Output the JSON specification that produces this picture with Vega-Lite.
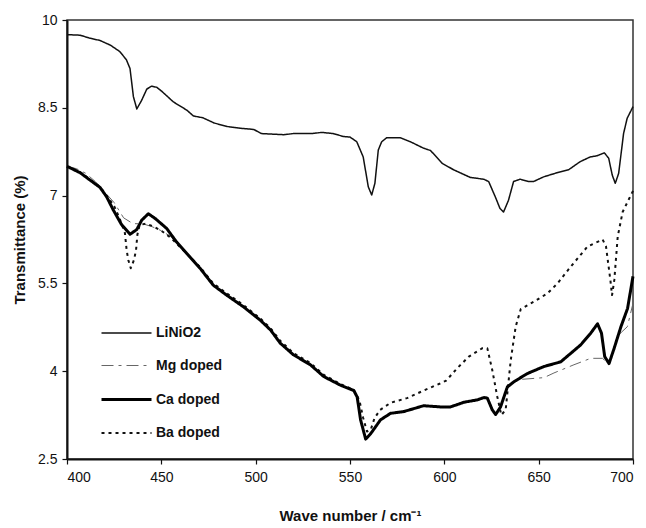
{
  "$schema": "https://vega.github.io/schema/vega-lite/v6.json",
  "width": 566,
  "height": 439,
  "autosize": {"type": "none"},
  "padding": {"left": 67, "top": 20, "right": 13, "bottom": 69},
  "background": "white",
  "config": {
    "font": "Liberation Sans",
    "view": {"stroke": "#333333", "strokeWidth": 1.5},
    "axis": {
      "domainColor": "#111111",
      "domainWidth": 2,
      "tickColor": "#111111",
      "tickWidth": 1.2,
      "tickSize": 5,
      "grid": false,
      "labelFont": "Liberation Sans",
      "labelFontSize": 14,
      "labelColor": "#111111",
      "titleFont": "Liberation Sans",
      "titleFontWeight": "bold",
      "titleFontSize": 15,
      "titleColor": "#111111"
    }
  },
  "data": {
    "values": [
      {"s": "LiNiO2", "wn": 400, "t": 9.75}, {"s": "LiNiO2", "wn": 407, "t": 9.74}, {"s": "LiNiO2", "wn": 412, "t": 9.69}, {"s": "LiNiO2", "wn": 417.5, "t": 9.65}, {"s": "LiNiO2", "wn": 423, "t": 9.57}, {"s": "LiNiO2", "wn": 428, "t": 9.46}, {"s": "LiNiO2", "wn": 431.5, "t": 9.32}, {"s": "LiNiO2", "wn": 433.4, "t": 9.17}, {"s": "LiNiO2", "wn": 435.2, "t": 8.69}, {"s": "LiNiO2", "wn": 437, "t": 8.48}, {"s": "LiNiO2", "wn": 439.6, "t": 8.63}, {"s": "LiNiO2", "wn": 442.3, "t": 8.82}, {"s": "LiNiO2", "wn": 444.9, "t": 8.87}, {"s": "LiNiO2", "wn": 447.6, "t": 8.85}, {"s": "LiNiO2", "wn": 450.3, "t": 8.78}, {"s": "LiNiO2", "wn": 456.4, "t": 8.6}, {"s": "LiNiO2", "wn": 463.5, "t": 8.46}, {"s": "LiNiO2", "wn": 467, "t": 8.36}, {"s": "LiNiO2", "wn": 472, "t": 8.33}, {"s": "LiNiO2", "wn": 478, "t": 8.24}, {"s": "LiNiO2", "wn": 485, "t": 8.18}, {"s": "LiNiO2", "wn": 492, "t": 8.15}, {"s": "LiNiO2", "wn": 499, "t": 8.13}, {"s": "LiNiO2", "wn": 503, "t": 8.06}, {"s": "LiNiO2", "wn": 509, "t": 8.05}, {"s": "LiNiO2", "wn": 515, "t": 8.04}, {"s": "LiNiO2", "wn": 520, "t": 8.06}, {"s": "LiNiO2", "wn": 530, "t": 8.06}, {"s": "LiNiO2", "wn": 535, "t": 8.08}, {"s": "LiNiO2", "wn": 541, "t": 8.06}, {"s": "LiNiO2", "wn": 546.5, "t": 8.01}, {"s": "LiNiO2", "wn": 550, "t": 8.0}, {"s": "LiNiO2", "wn": 553.6, "t": 7.92}, {"s": "LiNiO2", "wn": 557, "t": 7.66}, {"s": "LiNiO2", "wn": 559.7, "t": 7.15}, {"s": "LiNiO2", "wn": 561.5, "t": 7.01}, {"s": "LiNiO2", "wn": 563.2, "t": 7.21}, {"s": "LiNiO2", "wn": 565, "t": 7.78}, {"s": "LiNiO2", "wn": 566.8, "t": 7.92}, {"s": "LiNiO2", "wn": 569.5, "t": 7.99}, {"s": "LiNiO2", "wn": 576.5, "t": 7.99}, {"s": "LiNiO2", "wn": 582, "t": 7.92}, {"s": "LiNiO2", "wn": 589, "t": 7.81}, {"s": "LiNiO2", "wn": 592.7, "t": 7.77}, {"s": "LiNiO2", "wn": 598.9, "t": 7.55}, {"s": "LiNiO2", "wn": 605, "t": 7.44}, {"s": "LiNiO2", "wn": 613.8, "t": 7.31}, {"s": "LiNiO2", "wn": 620.9, "t": 7.28}, {"s": "LiNiO2", "wn": 623.5, "t": 7.24}, {"s": "LiNiO2", "wn": 627, "t": 6.98}, {"s": "LiNiO2", "wn": 629.5, "t": 6.78}, {"s": "LiNiO2", "wn": 631.4, "t": 6.72}, {"s": "LiNiO2", "wn": 634, "t": 6.92}, {"s": "LiNiO2", "wn": 636.7, "t": 7.24}, {"s": "LiNiO2", "wn": 640.2, "t": 7.28}, {"s": "LiNiO2", "wn": 644.6, "t": 7.24}, {"s": "LiNiO2", "wn": 647.3, "t": 7.24}, {"s": "LiNiO2", "wn": 652.6, "t": 7.32}, {"s": "LiNiO2", "wn": 659.7, "t": 7.39}, {"s": "LiNiO2", "wn": 665.8, "t": 7.44}, {"s": "LiNiO2", "wn": 672, "t": 7.58}, {"s": "LiNiO2", "wn": 677.3, "t": 7.66}, {"s": "LiNiO2", "wn": 680.9, "t": 7.68}, {"s": "LiNiO2", "wn": 684.8, "t": 7.73}, {"s": "LiNiO2", "wn": 687.1, "t": 7.64}, {"s": "LiNiO2", "wn": 689, "t": 7.35}, {"s": "LiNiO2", "wn": 690.6, "t": 7.21}, {"s": "LiNiO2", "wn": 692.4, "t": 7.38}, {"s": "LiNiO2", "wn": 695, "t": 8.06}, {"s": "LiNiO2", "wn": 696.9, "t": 8.32}, {"s": "LiNiO2", "wn": 700, "t": 8.52},

      {"s": "Ca doped", "wn": 400, "t": 7.5}, {"s": "Ca doped", "wn": 407, "t": 7.39}, {"s": "Ca doped", "wn": 412, "t": 7.27}, {"s": "Ca doped", "wn": 417.5, "t": 7.14}, {"s": "Ca doped", "wn": 421, "t": 6.98}, {"s": "Ca doped", "wn": 424.6, "t": 6.75}, {"s": "Ca doped", "wn": 429, "t": 6.5}, {"s": "Ca doped", "wn": 433.4, "t": 6.34}, {"s": "Ca doped", "wn": 437, "t": 6.42}, {"s": "Ca doped", "wn": 439.6, "t": 6.58}, {"s": "Ca doped", "wn": 443.1, "t": 6.69}, {"s": "Ca doped", "wn": 446.7, "t": 6.61}, {"s": "Ca doped", "wn": 452.8, "t": 6.44}, {"s": "Ca doped", "wn": 458, "t": 6.21}, {"s": "Ca doped", "wn": 463.5, "t": 6.01}, {"s": "Ca doped", "wn": 470.5, "t": 5.76}, {"s": "Ca doped", "wn": 477.5, "t": 5.47}, {"s": "Ca doped", "wn": 484.6, "t": 5.3}, {"s": "Ca doped", "wn": 493.5, "t": 5.1}, {"s": "Ca doped", "wn": 502.5, "t": 4.87}, {"s": "Ca doped", "wn": 508, "t": 4.7}, {"s": "Ca doped", "wn": 513, "t": 4.48}, {"s": "Ca doped", "wn": 520, "t": 4.28}, {"s": "Ca doped", "wn": 529, "t": 4.11}, {"s": "Ca doped", "wn": 536, "t": 3.91}, {"s": "Ca doped", "wn": 545, "t": 3.76}, {"s": "Ca doped", "wn": 552, "t": 3.67}, {"s": "Ca doped", "wn": 553.8, "t": 3.56}, {"s": "Ca doped", "wn": 555.6, "t": 3.17}, {"s": "Ca doped", "wn": 558.3, "t": 2.84}, {"s": "Ca doped", "wn": 560.9, "t": 2.93}, {"s": "Ca doped", "wn": 566.2, "t": 3.17}, {"s": "Ca doped", "wn": 571.5, "t": 3.28}, {"s": "Ca doped", "wn": 578.5, "t": 3.31}, {"s": "Ca doped", "wn": 589, "t": 3.41}, {"s": "Ca doped", "wn": 598, "t": 3.39}, {"s": "Ca doped", "wn": 603.3, "t": 3.39}, {"s": "Ca doped", "wn": 610.4, "t": 3.47}, {"s": "Ca doped", "wn": 617.5, "t": 3.51}, {"s": "Ca doped", "wn": 621, "t": 3.55}, {"s": "Ca doped", "wn": 622.8, "t": 3.54}, {"s": "Ca doped", "wn": 625.4, "t": 3.34}, {"s": "Ca doped", "wn": 627.2, "t": 3.26}, {"s": "Ca doped", "wn": 629.8, "t": 3.39}, {"s": "Ca doped", "wn": 633.4, "t": 3.73}, {"s": "Ca doped", "wn": 636.9, "t": 3.82}, {"s": "Ca doped", "wn": 644, "t": 3.96}, {"s": "Ca doped", "wn": 652.8, "t": 4.08}, {"s": "Ca doped", "wn": 661.7, "t": 4.16}, {"s": "Ca doped", "wn": 672.3, "t": 4.45}, {"s": "Ca doped", "wn": 677.6, "t": 4.65}, {"s": "Ca doped", "wn": 681.2, "t": 4.81}, {"s": "Ca doped", "wn": 683.3, "t": 4.65}, {"s": "Ca doped", "wn": 685, "t": 4.25}, {"s": "Ca doped", "wn": 687.3, "t": 4.13}, {"s": "Ca doped", "wn": 690, "t": 4.39}, {"s": "Ca doped", "wn": 693.6, "t": 4.76}, {"s": "Ca doped", "wn": 697.1, "t": 5.07}, {"s": "Ca doped", "wn": 700, "t": 5.62},

      {"s": "Mg doped", "wn": 400, "t": 7.5}, {"s": "Mg doped", "wn": 405, "t": 7.46}, {"s": "Mg doped", "wn": 410, "t": 7.38}, {"s": "Mg doped", "wn": 415, "t": 7.24}, {"s": "Mg doped", "wn": 420, "t": 7.06}, {"s": "Mg doped", "wn": 425, "t": 6.88}, {"s": "Mg doped", "wn": 430, "t": 6.62}, {"s": "Mg doped", "wn": 435, "t": 6.52}, {"s": "Mg doped", "wn": 440, "t": 6.52}, {"s": "Mg doped", "wn": 445, "t": 6.47}, {"s": "Mg doped", "wn": 450, "t": 6.4}, {"s": "Mg doped", "wn": 455, "t": 6.3}, {"s": "Mg doped", "wn": 460, "t": 6.13}, {"s": "Mg doped", "wn": 463.5, "t": 6.01}, {"s": "Mg doped", "wn": 470.5, "t": 5.76}, {"s": "Mg doped", "wn": 477.5, "t": 5.47}, {"s": "Mg doped", "wn": 484.6, "t": 5.3}, {"s": "Mg doped", "wn": 493.5, "t": 5.1}, {"s": "Mg doped", "wn": 502.5, "t": 4.87}, {"s": "Mg doped", "wn": 508, "t": 4.7}, {"s": "Mg doped", "wn": 513, "t": 4.48}, {"s": "Mg doped", "wn": 520, "t": 4.28}, {"s": "Mg doped", "wn": 529, "t": 4.11}, {"s": "Mg doped", "wn": 536, "t": 3.91}, {"s": "Mg doped", "wn": 545, "t": 3.76}, {"s": "Mg doped", "wn": 552, "t": 3.67}, {"s": "Mg doped", "wn": 553.8, "t": 3.56}, {"s": "Mg doped", "wn": 555.6, "t": 3.17}, {"s": "Mg doped", "wn": 558.3, "t": 2.84}, {"s": "Mg doped", "wn": 560.9, "t": 2.93}, {"s": "Mg doped", "wn": 566.2, "t": 3.17}, {"s": "Mg doped", "wn": 571.5, "t": 3.28}, {"s": "Mg doped", "wn": 578.5, "t": 3.31}, {"s": "Mg doped", "wn": 589, "t": 3.41}, {"s": "Mg doped", "wn": 598, "t": 3.39}, {"s": "Mg doped", "wn": 603.3, "t": 3.39}, {"s": "Mg doped", "wn": 610.4, "t": 3.47}, {"s": "Mg doped", "wn": 617.5, "t": 3.51}, {"s": "Mg doped", "wn": 621, "t": 3.55}, {"s": "Mg doped", "wn": 622.8, "t": 3.54}, {"s": "Mg doped", "wn": 625.4, "t": 3.34}, {"s": "Mg doped", "wn": 627.2, "t": 3.26}, {"s": "Mg doped", "wn": 629.8, "t": 3.39}, {"s": "Mg doped", "wn": 633.4, "t": 3.76}, {"s": "Mg doped", "wn": 640.5, "t": 3.86}, {"s": "Mg doped", "wn": 652.8, "t": 3.89}, {"s": "Mg doped", "wn": 658.1, "t": 3.97}, {"s": "Mg doped", "wn": 668.7, "t": 4.11}, {"s": "Mg doped", "wn": 677.6, "t": 4.22}, {"s": "Mg doped", "wn": 683.8, "t": 4.22}, {"s": "Mg doped", "wn": 687.3, "t": 4.12}, {"s": "Mg doped", "wn": 691.7, "t": 4.6}, {"s": "Mg doped", "wn": 697, "t": 4.76}, {"s": "Mg doped", "wn": 700, "t": 5.16},

      {"s": "Ba doped", "wn": 400, "t": 7.5}, {"s": "Ba doped", "wn": 407, "t": 7.4}, {"s": "Ba doped", "wn": 412, "t": 7.28}, {"s": "Ba doped", "wn": 417.5, "t": 7.15}, {"s": "Ba doped", "wn": 421, "t": 7.0}, {"s": "Ba doped", "wn": 425, "t": 6.82}, {"s": "Ba doped", "wn": 428, "t": 6.6}, {"s": "Ba doped", "wn": 430.7, "t": 6.36}, {"s": "Ba doped", "wn": 431.6, "t": 6.07}, {"s": "Ba doped", "wn": 432.5, "t": 5.9}, {"s": "Ba doped", "wn": 433.8, "t": 5.76}, {"s": "Ba doped", "wn": 435.5, "t": 5.9}, {"s": "Ba doped", "wn": 436.6, "t": 6.07}, {"s": "Ba doped", "wn": 437.3, "t": 6.33}, {"s": "Ba doped", "wn": 438.5, "t": 6.5}, {"s": "Ba doped", "wn": 442, "t": 6.52}, {"s": "Ba doped", "wn": 446, "t": 6.47}, {"s": "Ba doped", "wn": 450, "t": 6.4}, {"s": "Ba doped", "wn": 455, "t": 6.28}, {"s": "Ba doped", "wn": 460, "t": 6.12}, {"s": "Ba doped", "wn": 465, "t": 5.96}, {"s": "Ba doped", "wn": 470.5, "t": 5.78}, {"s": "Ba doped", "wn": 477.5, "t": 5.5}, {"s": "Ba doped", "wn": 484.6, "t": 5.33}, {"s": "Ba doped", "wn": 493.5, "t": 5.13}, {"s": "Ba doped", "wn": 502.5, "t": 4.9}, {"s": "Ba doped", "wn": 508, "t": 4.73}, {"s": "Ba doped", "wn": 513, "t": 4.52}, {"s": "Ba doped", "wn": 520, "t": 4.31}, {"s": "Ba doped", "wn": 529, "t": 4.14}, {"s": "Ba doped", "wn": 536, "t": 3.94}, {"s": "Ba doped", "wn": 545, "t": 3.78}, {"s": "Ba doped", "wn": 552, "t": 3.68}, {"s": "Ba doped", "wn": 555, "t": 3.5}, {"s": "Ba doped", "wn": 557, "t": 3.2}, {"s": "Ba doped", "wn": 559, "t": 2.97}, {"s": "Ba doped", "wn": 561, "t": 3.0}, {"s": "Ba doped", "wn": 563, "t": 3.2}, {"s": "Ba doped", "wn": 566, "t": 3.34}, {"s": "Ba doped", "wn": 571.5, "t": 3.46}, {"s": "Ba doped", "wn": 580.2, "t": 3.54}, {"s": "Ba doped", "wn": 589.1, "t": 3.67}, {"s": "Ba doped", "wn": 597.7, "t": 3.79}, {"s": "Ba doped", "wn": 601, "t": 3.84}, {"s": "Ba doped", "wn": 606.8, "t": 4.05}, {"s": "Ba doped", "wn": 613, "t": 4.25}, {"s": "Ba doped", "wn": 620, "t": 4.39}, {"s": "Ba doped", "wn": 622.8, "t": 4.39}, {"s": "Ba doped", "wn": 625.4, "t": 4.02}, {"s": "Ba doped", "wn": 628.1, "t": 3.56}, {"s": "Ba doped", "wn": 630.2, "t": 3.25}, {"s": "Ba doped", "wn": 632.5, "t": 3.34}, {"s": "Ba doped", "wn": 635.2, "t": 4.19}, {"s": "Ba doped", "wn": 637.8, "t": 4.76}, {"s": "Ba doped", "wn": 640.5, "t": 5.06}, {"s": "Ba doped", "wn": 647.6, "t": 5.19}, {"s": "Ba doped", "wn": 654.7, "t": 5.33}, {"s": "Ba doped", "wn": 660, "t": 5.5}, {"s": "Ba doped", "wn": 667.1, "t": 5.79}, {"s": "Ba doped", "wn": 675.9, "t": 6.13}, {"s": "Ba doped", "wn": 683.9, "t": 6.25}, {"s": "Ba doped", "wn": 685.7, "t": 6.13}, {"s": "Ba doped", "wn": 688, "t": 5.56}, {"s": "Ba doped", "wn": 688.9, "t": 5.3}, {"s": "Ba doped", "wn": 690.1, "t": 5.56}, {"s": "Ba doped", "wn": 691.9, "t": 6.3}, {"s": "Ba doped", "wn": 694.5, "t": 6.72}, {"s": "Ba doped", "wn": 698, "t": 6.95}, {"s": "Ba doped", "wn": 700, "t": 7.08}
    ]
  },
  "encoding": {
    "x": {
      "field": "wn", "type": "quantitative",
      "scale": {"domain": [400, 700], "nice": false, "zero": false},
      "axis": {"values": [400, 450, 500, 550, 600, 650, 700], "title": "Wave number / cm⁻¹", "labelPadding": 6, "titlePadding": 24}
    },
    "y": {
      "field": "t", "type": "quantitative",
      "scale": {"domain": [2.5, 10], "nice": false, "zero": false},
      "axis": {"values": [2.5, 4, 5.5, 7, 8.5, 10], "labelExpr": "'' + datum.value", "title": "Transmittance (%)", "labelPadding": 5, "titlePadding": 10}
    },
    "color": {
      "field": "s", "type": "nominal",
      "scale": {"domain": ["LiNiO2", "Mg doped", "Ca doped", "Ba doped"], "range": ["#111111", "#666666", "#000000", "#111111"]},
      "legend": {
        "orient": "none", "legendX": 33, "legendY": 287, "title": null,
        "symbolType": "stroke", "symbolSize": 2500,
        "labelFont": "Liberation Sans", "labelFontWeight": "bold", "labelFontSize": 14, "labelColor": "#111111",
        "labelOffset": 3, "rowPadding": -17
      }
    },
    "strokeDash": {
      "field": "s", "type": "nominal",
      "scale": {"domain": ["LiNiO2", "Mg doped", "Ca doped", "Ba doped"], "range": [[1, 0], [12, 5, 3, 5], [1, 0], [3, 4]]}
    },
    "strokeWidth": {
      "field": "s", "type": "nominal",
      "scale": {"type": "ordinal", "domain": ["LiNiO2", "Mg doped", "Ca doped", "Ba doped"], "range": [1.5, 1, 3, 2]}
    }
  },
  "layer": [
    {"transform": [{"filter": "datum.s === 'Mg doped'"}], "mark": {"type": "line", "strokeJoin": "round"}},
    {"transform": [{"filter": "datum.s === 'Ba doped'"}], "mark": {"type": "line", "strokeJoin": "round"}},
    {"transform": [{"filter": "datum.s === 'Ca doped'"}], "mark": {"type": "line", "strokeJoin": "round"}},
    {"transform": [{"filter": "datum.s === 'LiNiO2'"}], "mark": {"type": "line", "strokeJoin": "round"}}
  ]
}
